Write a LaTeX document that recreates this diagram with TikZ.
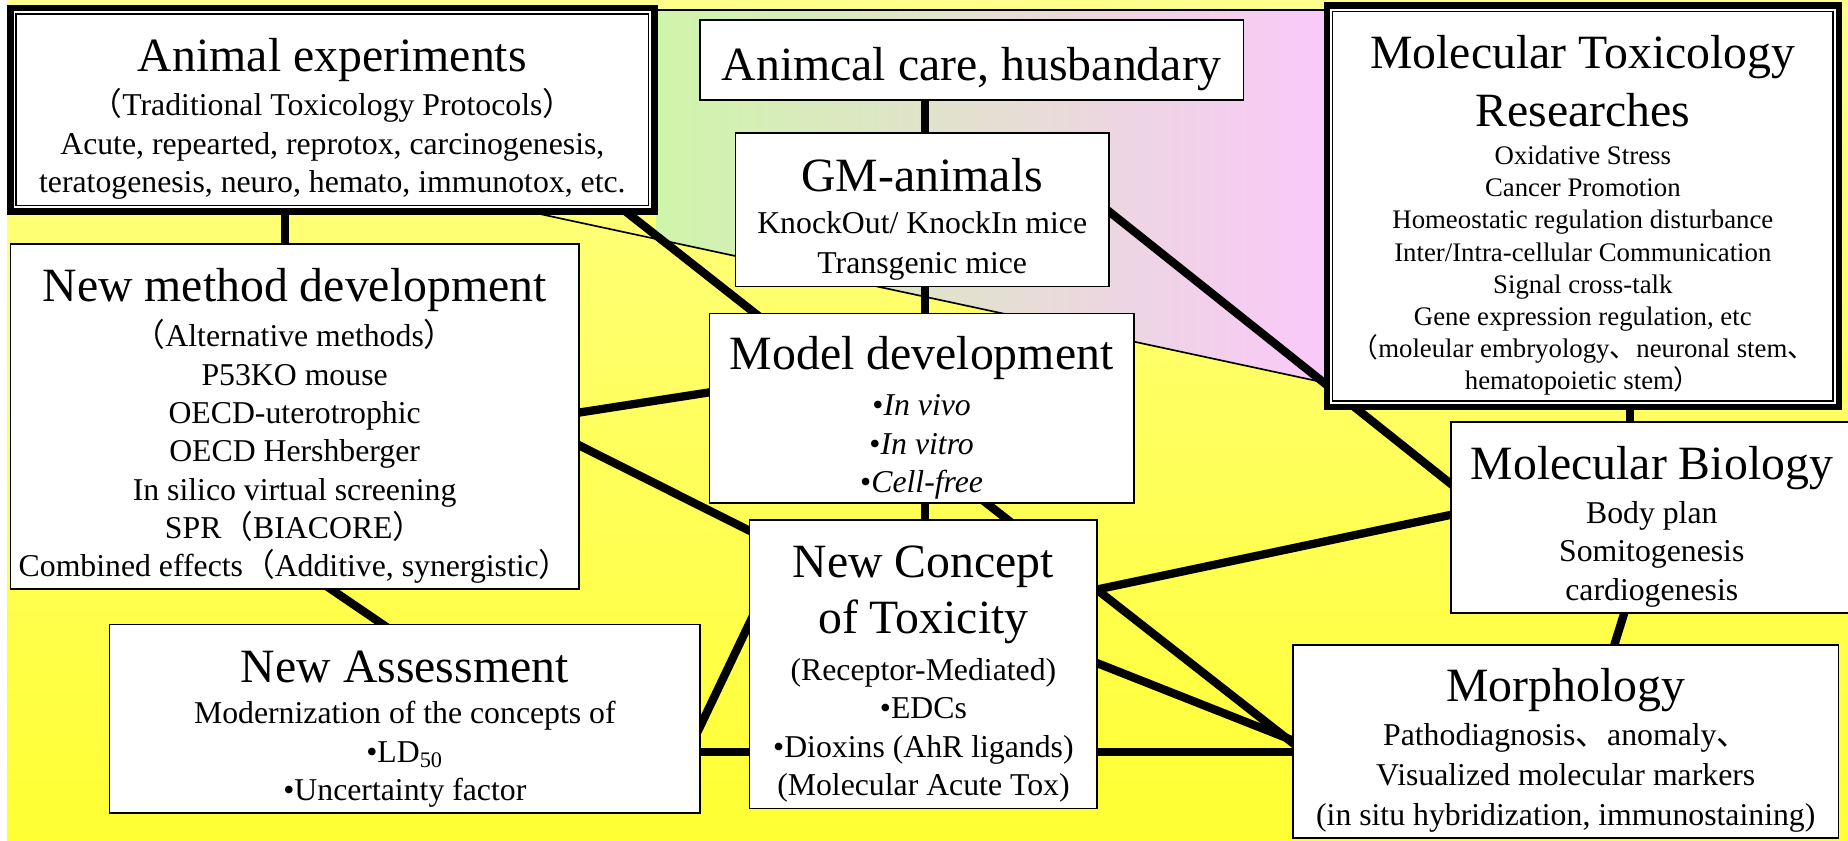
\documentclass[tikz,border=0pt]{standalone}
\usepackage{fontspec}
\setmainfont{Liberation Serif}
\newfontfamily\cjkfont{Noto Sans CJK JP}
\usetikzlibrary{backgrounds}
\definecolor{paleyellow}{HTML}{FFFF8C}
\definecolor{lemon}{HTML}{FFFF33}
\definecolor{leafgreen}{HTML}{CFF5AA}
\definecolor{orchid}{HTML}{FAC8FA}
\newcommand{\boxtitle}{\fontsize{17.3}{20.5}\selectfont}
\newcommand{\bodytext}{\fontsize{11.5}{13.9}\selectfont}
\newcommand{\looseText}{\fontsize{11.5}{14.5}\selectfont}
\newcommand{\smalltext}{\fontsize{9.7}{11.65}\selectfont}
\newcommand{\headroom}{\rule{0pt}{18.8pt}}
\newcommand{\jlp}{{\cjkfont （}}
\newcommand{\jrp}{{\cjkfont ）}}
\newcommand{\jsep}{{\cjkfont 、}}

\begin{document}
\begin{tikzpicture}[
  x=0.15mm,y=-0.15mm,
  boxsize/.style 2 args={minimum width=#1*0.15mm,minimum height=#2*0.15mm},
  plainbox/.style={draw=black,line width=0.6pt,fill=white,inner sep=0pt,align=center,font=\bodytext},
  heavybox/.style={plainbox,double=white,double distance=0.6pt,preaction={draw=black,line width=5.4pt}},
  link/.style={line width=3pt,draw=black,shorten <=-4pt,shorten >=-4pt},
  rim/.style={line width=0.6pt,draw=black}
]
\useasboundingbox (0,0) rectangle (1568,713);
% background and coloured band
\begin{scope}[on background layer]
\shade[top color=paleyellow,bottom color=lemon] (6,0) rectangle (1568,713);
\begin{scope}
\clip (460,8.5) -- (1200,8.5) -- (1200,341) -- (460,182) -- cycle;
\shade[left color=leafgreen,right color=orchid] (557,0) rectangle (1125,400);
\end{scope}
\draw[rim] (460,8.5) -- (1200,8.5) -- (1200,341) -- (460,182) -- cycle;
\end{scope}

\node[heavybox,boxsize={539.4}{165.4}] (anim) at (282,93) {{\boxtitle\headroom Animal experiments}\\[2pt]\jlp Traditional Toxicology Protocols\jrp\\Acute, repearted, reprotox, carcinogenesis,\\teratogenesis, neuro, hemato, immunotox, etc.};
\node[plainbox,boxsize={461}{68}] (care) at (824.5,51) {{\boxtitle\headroom Animcal care, husbandary}};
\node[plainbox,font=\looseText,boxsize={317}{130}] (gm) at (782.5,178) {{\boxtitle\headroom GM-animals}\\[0.6pt]KnockOut/ KnockIn mice\\Transgenic mice};
\node[plainbox,boxsize={360}{161}] (model) at (782,346.5) {{\boxtitle\headroom Model development}\\[2.8pt]•\textit{In vivo}\\•\textit{In vitro}\\•\textit{Cell-free}};
\node[heavybox,font=\smalltext,boxsize={427.4}{333.4}] (moltox) at (1343,175) {{\boxtitle\headroom Molecular Toxicology}\\[4.3pt]{\boxtitle Researches}\\[2pt]Oxidative Stress\\Cancer Promotion\\Homeostatic regulation disturbance\\Inter/Intra-cellular Communication\\Signal cross-talk\\Gene expression regulation, etc\\\jlp moleular embryology\jsep neuronal stem\jsep\\hematopoietic stem\jrp};
\node[plainbox,boxsize={482}{293}] (newmeth) at (250,353.5) {{\boxtitle\headroom New method development}\\[2.5pt]\jlp Alternative methods\jrp\\P53KO mouse\\OECD-uterotrophic\\OECD Hershberger\\In silico virtual screening\\SPR\jlp BIACORE\jrp\\Combined effects\jlp Additive, synergistic\jrp};
\node[plainbox,boxsize={341}{162}] (molbio) at (1401.5,439) {{\boxtitle\headroom Molecular Biology}\\[2pt]Body plan\\Somitogenesis\\cardiogenesis};
\node[plainbox,boxsize={295}{245}] (concept) at (783.5,563.5) {{\boxtitle\headroom New Concept}\\[3.4pt]{\boxtitle of Toxicity}\\[3pt](Receptor-Mediated)\\•EDCs\\•Dioxins (AhR ligands)\\(Molecular Acute Tox)};
\node[plainbox,boxsize={501}{160}] (assess) at (343.5,610) {{\boxtitle\headroom New Assessment}\\[1pt]Modernization of the concepts of\\•LD\textsubscript{50}\\•Uncertainty factor};
\node[plainbox,font=\looseText,boxsize={463}{164}] (morph) at (1328.5,629) {{\boxtitle\headroom Morphology}\\[1.5pt]Pathodiagnosis\jsep anomaly\jsep\\Visualized molecular markers\\(in situ hybridization, immunostaining)};

% connectors
\begin{scope}[on background layer]
\draw[link] (anim.south -| 242,0) -- (newmeth.north -| 242,0);
\draw[link] (anim.south -| 527,0) -- (model.north -| 640,0);
\draw[link] (care.south -| 785,0) -- (gm.north -| 785,0);
\draw[link] (gm.south -| 785,0) -- (model.north -| 785,0);
\draw[link] (model.south -| 785,0) -- (concept.north -| 785,0);
\draw[link] (gm.east |- 0,180) -- (molbio.west |- 0,410);
\draw[link] (newmeth.east |- 0,350) -- (model.west |- 0,333);
\draw[link] (newmeth.east |- 0,378) -- (concept.west |- 0,450);
\draw[link] (model.south -| 838,0) -- (morph.west |- 0,630);
\draw[link] (concept.east |- 0,500) -- (molbio.west |- 0,437);
\draw[link] (concept.east |- 0,563) -- (morph.west |- 0,628);
\draw[link] (assess.east |- 0,638) -- (morph.west |- 0,638);
\draw[link] (assess.east |- 0,615) -- (concept.west |- 0,530);
\draw[link] (newmeth.south -| 282,0) -- (assess.north -| 324,0);
\draw[link] (moltox.south -| 1383,0) -- (molbio.north -| 1383,0);
\draw[link] (molbio.south -| 1378,0) -- (morph.north -| 1370,0);
\end{scope}
\end{tikzpicture}
\end{document}
